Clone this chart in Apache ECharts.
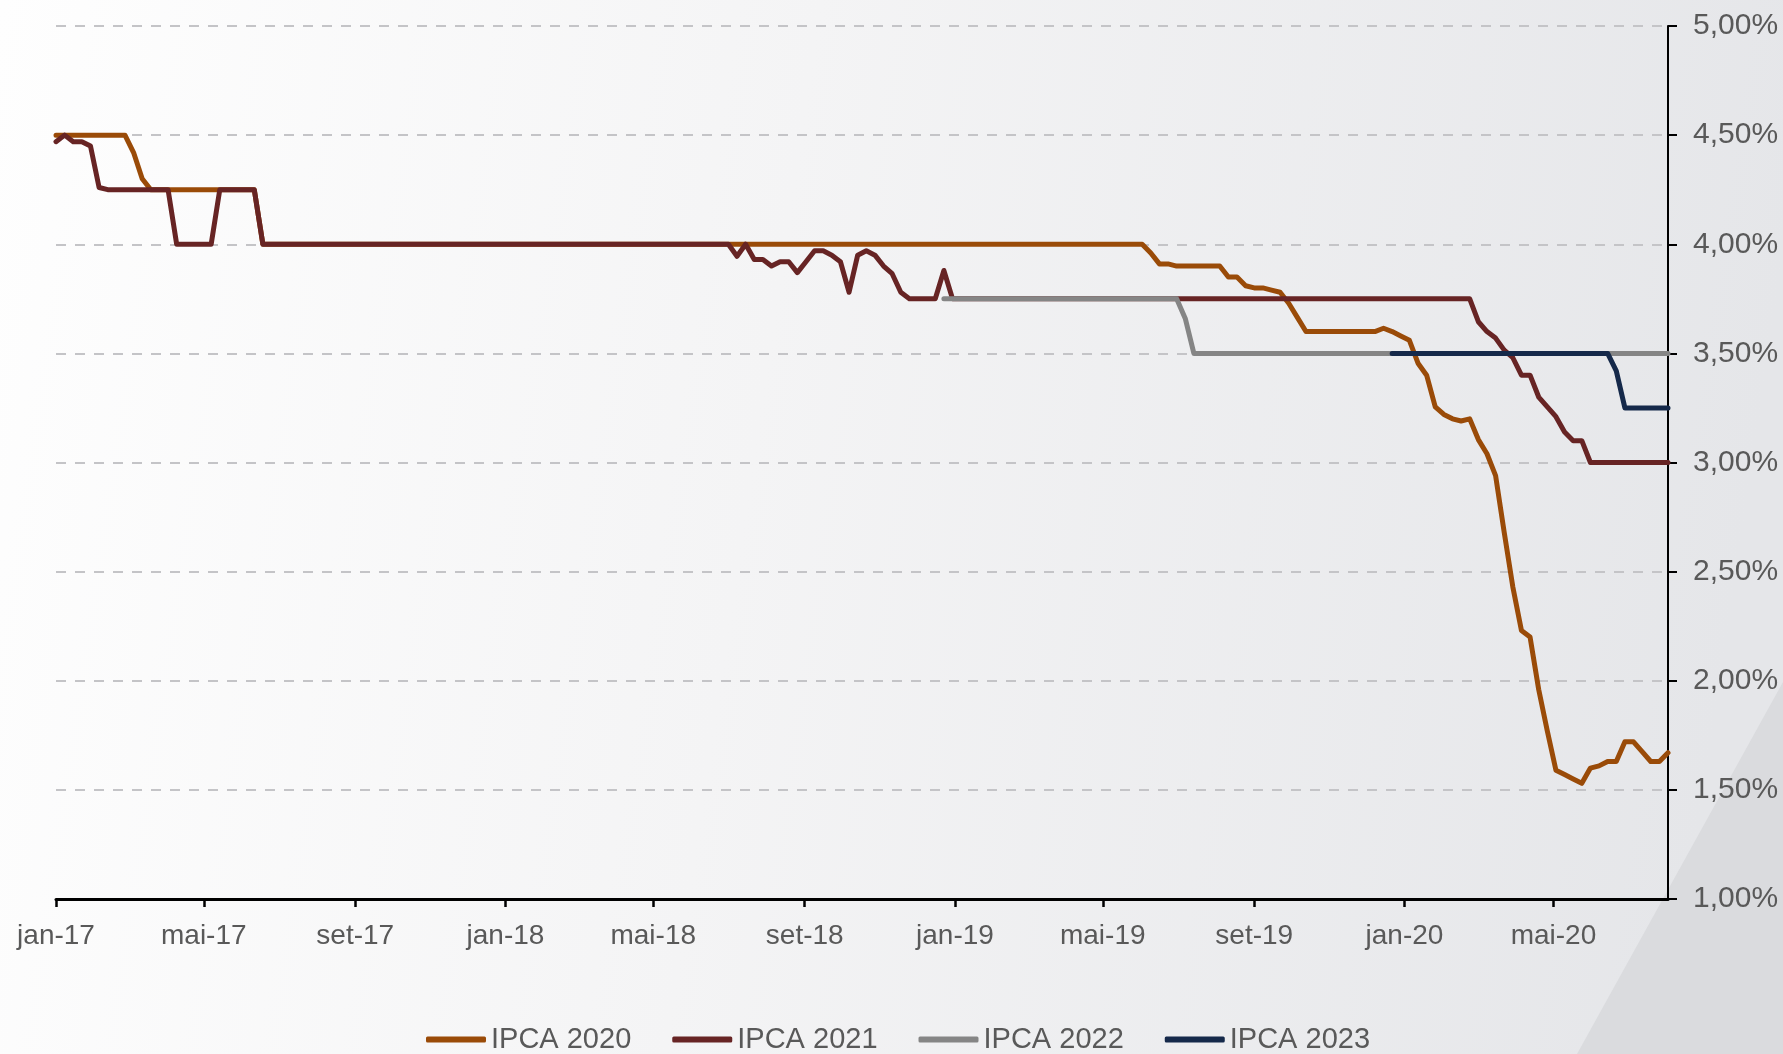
<!DOCTYPE html>
<html>
<head>
<meta charset="utf-8">
<script src="https://cdn.jsdelivr.net/npm/echarts@6/dist/echarts.min.js"></script>
<style>
html, body { margin: 0; padding: 0; }
#main { width: 1783px; height: 1054px; }
</style>
</head>
<body>
<div id="main"></div>
<script>
// [semana desde 01/01/2017, expectativa %] - so os pontos onde a linha muda
let ipca2020 = [
	[0, 4.50], [8, 4.50], [9, 4.42], [10, 4.30], [11, 4.25], [23, 4.25], [24, 4.00],
	[126, 4.00], [127, 3.96], [128, 3.91], [129, 3.91], [130, 3.90], [135, 3.90],
	[136, 3.85], [137, 3.85], [138, 3.81], [139, 3.80], [140, 3.80], [141, 3.79],
	[142, 3.78], [143, 3.73], [144, 3.665], [145, 3.60], [153, 3.60], [154, 3.615],
	[155, 3.60], [156, 3.58], [157, 3.56], [158, 3.455], [159, 3.40], [160, 3.255],
	[161, 3.22], [162, 3.20], [163, 3.19], [164, 3.20], [165, 3.105], [166, 3.04],
	[167, 2.94], [168, 2.68], [169, 2.43], [170, 2.23], [171, 2.20], [172, 1.96],
	[173, 1.77], [174, 1.59], [175, 1.57], [176, 1.55], [177, 1.53], [178, 1.60],
	[179, 1.61], [180, 1.63], [181, 1.63], [182, 1.72], [183, 1.72], [184, 1.675],
	[185, 1.63], [186, 1.63], [187, 1.67]
];

let ipca2021 = [
	[0, 4.47], [1, 4.50], [2, 4.47], [3, 4.47], [4, 4.45], [5, 4.26], [6, 4.25],
	[13, 4.25], [14, 4.00], [18, 4.00], [19, 4.25], [23, 4.25], [24, 4.00],
	[78, 4.00], [79, 3.945], [80, 4.00], [81, 3.93], [82, 3.93], [83, 3.90],
	[84, 3.92], [85, 3.92], [86, 3.87], [87, 3.92], [88, 3.97], [89, 3.97],
	[90, 3.95], [91, 3.92], [92, 3.78], [93, 3.95], [94, 3.97], [95, 3.95],
	[96, 3.90], [97, 3.865], [98, 3.78], [99, 3.75], [102, 3.75], [103, 3.88],
	[104, 3.75], [164, 3.75], [165, 3.645], [166, 3.60], [167, 3.57], [168, 3.515],
	[169, 3.48], [170, 3.40], [171, 3.40], [172, 3.30], [173, 3.255], [174, 3.21],
	[175, 3.14], [176, 3.10], [177, 3.10], [178, 3.00], [187, 3.00]
];

let ipca2022 = [
	[103, 3.75], [130, 3.75], [131, 3.66], [132, 3.50], [187, 3.50]
];

let ipca2023 = [
	[155, 3.50], [180, 3.50], [181, 3.42], [182, 3.25], [187, 3.25]
];

let seriesNames = ['IPCA 2020', 'IPCA 2021', 'IPCA 2022', 'IPCA 2023'];
let seriesColors = ['#9a4b08', '#672424', '#858585', '#15294a'];

// rotulos do eixo x (inicio de mes, de 4 em 4 meses)
let tickMonths = [
	[2017, 0], [2017, 4], [2017, 8], [2018, 0], [2018, 4], [2018, 8],
	[2019, 0], [2019, 4], [2019, 8], [2020, 0], [2020, 4]
];
let monthNames = ['jan', 'fev', 'mar', 'abr', 'mai', 'jun', 'jul', 'ago', 'set', 'out', 'nov', 'dez'];

const DAY = 86400000;
let startTime = Date.UTC(2017, 0, 1);
let lastWeek = 187;

// eixo x em dias desde 01/01/2017
function toDays(list) {
	return list.map(([w, v]) => [w * 7, v]);
}

let tickDays = tickMonths.map(([y, m]) => Math.round((Date.UTC(y, m, 1) - startTime) / DAY));

let chartDom = document.getElementById('main');
let myChart = echarts.init(chartDom);

let font = "'Liberation Sans', Arial, sans-serif";
let textColor = '#595959';

let allData = [ipca2020, ipca2021, ipca2022, ipca2023];

let option = {
	animation: false,
	backgroundColor: {
		type: 'linear',
		x: 0, y: 0, x2: 1, y2: 0.25,
		colorStops: [
			{ offset: 0, color: '#fefefe' },
			{ offset: 0.45, color: '#f4f4f5' },
			{ offset: 1, color: '#e5e6e9' }
		]
	},
	graphic: [{
		type: 'polygon',
		silent: true,
		z: -10,
		shape: { points: [[1577, 1054], [1783, 682], [1783, 1054]] },
		style: { fill: '#dadbde' }
	}],
	grid: {
		left: 56,
		right: 115,
		top: 26,
		bottom: 155
	},
	legend: {
		data: seriesNames,
		left: 426,
		top: 1025,
		padding: 0,
		icon: 'roundRect',
		itemWidth: 60,
		itemHeight: 6,
		itemGap: 41,
		textStyle: {
			color: textColor,
			fontSize: 29,
			fontFamily: font
		}
	},
	xAxis: {
		type: 'value',
		min: 0,
		max: lastWeek * 7,
		axisLine: {
			show: true,
			onZero: false,
			lineStyle: { color: '#000', width: 3 }
		},
		axisTick: {
			show: true,
			length: 8,
			customValues: tickDays,
			lineStyle: { color: '#000', width: 2.5 }
		},
		axisLabel: {
			customValues: tickDays,
			margin: 23,
			color: textColor,
			fontSize: 28,
			fontFamily: font,
			formatter: (value) => {
				let d = new Date(startTime + value * DAY);
				return monthNames[d.getUTCMonth()] + '-' + String(d.getUTCFullYear()).slice(2);
			}
		},
		splitLine: { show: false }
	},
	yAxis: {
		type: 'value',
		position: 'right',
		min: 1,
		max: 5,
		interval: 0.5,
		axisLine: {
			show: true,
			onZero: false,
			lineStyle: { color: '#000', width: 2 }
		},
		axisTick: {
			show: true,
			length: 9,
			lineStyle: { color: '#000', width: 2 }
		},
		axisLabel: {
			margin: 25,
			color: textColor,
			fontSize: 30,
			fontFamily: font,
			formatter: (v) => v.toFixed(2).replace('.', ',') + '%'
		},
		splitLine: {
			show: true,
			lineStyle: { color: '#c4c4c7', width: 2, type: [10, 9] }
		}
	},
	series: seriesNames.map((name, i) => ({
		name: name,
		type: 'line',
		symbol: 'none',
		data: toDays(allData[i]),
		color: seriesColors[i],
		lineStyle: {
			color: seriesColors[i],
			width: 5,
			cap: 'round',
			join: 'round'
		}
	}))
};

myChart.setOption(option);
</script>
</body>
</html>
